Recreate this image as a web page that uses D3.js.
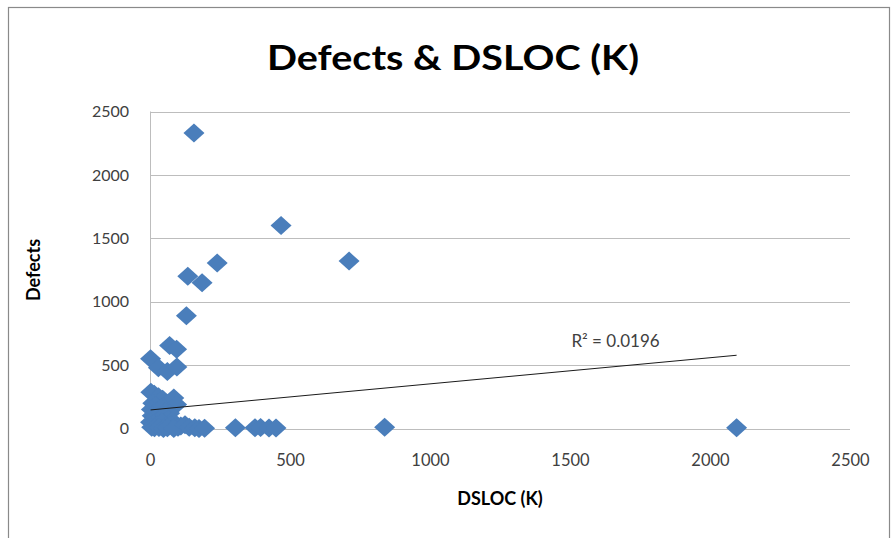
<!DOCTYPE html>
<html>
<head>
<meta charset="utf-8">
<script src="https://cdn.jsdelivr.net/npm/d3@7"></script>
<style>
  html, body { margin: 0; padding: 0; background: #fff; }
  svg { display: block; }
  text { font-family: Lato, "Open Sans", sans-serif; }
</style>
</head>
<body>
<svg id="chart" width="893" height="538"></svg>
<script>
// Source lines of code delivered (thousands) for each project
const dsloc = [
  157, 468, 711, 240, 135, 186, 130, 70, 95,
  2, 30, 62, 96,
  3, 15, 30, 45, 60, 85, 95, 10, 20, 5, 25, 40, 55, 70,
  8, 18, 35, 50, 65, 80, 2, 12, 28, 42, 58, 75, 90,
  100, 110, 6, 16, 32, 48, 62, 85, 125, 140, 160, 175, 195,
  305, 375, 395, 425, 450, 838, 2095
];
// Defects reported for each project
const defects = [
  2330, 1600, 1320, 1305, 1200, 1150, 890, 655, 625,
  550, 480, 450, 485,
  285, 270, 250, 230, 200, 240, 190, 200, 180, 150, 140, 160, 130, 120,
  100, 90, 80, 100, 70, 60, 50, 40, 30, 50, 20, 30, 15,
  10, 20, 10, 5, 8, 0, 5, 0, 30, 10, 5, 0, 2,
  5, 5, 8, 3, 4, 10, 5
];

// Linear trend fitted in the workbook
const trendIntercept = 146;
const trendSlope = 0.206;
const trendLabel = "R\u00B2 = 0.0196";

const xTicks = [0, 500, 1000, 1500, 2000, 2500];
const yTicks = [0, 500, 1000, 1500, 2000, 2500];

const chartTitle = "Defects & DSLOC (K)";
const xTitle = "DSLOC (K)";
const yTitle = "Defects";

const svg = d3.select("#chart");

// outer chart border
svg.append("rect")
  .attr("x", 8.5).attr("y", 7.5)
  .attr("width", 881).attr("height", 545)
  .attr("fill", "#fff")
  .attr("stroke", "#8a8a8a").attr("stroke-width", 1.2);

const plot = { left: 150, right: 850, top: 111.5, bottom: 428.5 };

const x = d3.scaleLinear().domain([0, 2500]).range([plot.left, plot.right]);
const y = d3.scaleLinear().domain([0, 2500]).range([plot.bottom, plot.top]);
const fmt = d3.format("d");

// horizontal gridlines
svg.append("g")
  .selectAll("line")
  .data(yTicks)
  .join("line")
  .attr("x1", plot.left).attr("x2", plot.right)
  .attr("y1", d => Math.round(y(d)) + 0.5).attr("y2", d => Math.round(y(d)) + 0.5)
  .attr("stroke", "#bdbdbd").attr("stroke-width", 1);

// vertical axis line
svg.append("line")
  .attr("x1", plot.left + 0.5).attr("x2", plot.left + 0.5)
  .attr("y1", plot.top).attr("y2", plot.bottom)
  .attr("stroke", "#bdbdbd").attr("stroke-width", 1);

// y tick labels
const yAxis = d3.axisLeft(y).tickValues(yTicks).tickFormat(fmt).tickSize(0).tickPadding(21);
const gy = svg.append("g").attr("transform", `translate(${plot.left},0)`).call(yAxis);
gy.select(".domain").remove();
gy.selectAll("text")
  .attr("font-family", "Lato, 'Open Sans', sans-serif")
  .attr("font-size", 16).attr("fill", "#404040");

// x tick labels
const xAxis = d3.axisBottom(x).tickValues(xTicks).tickFormat(fmt).tickSize(0).tickPadding(26);
const gx = svg.append("g").attr("transform", `translate(0,${plot.bottom})`).call(xAxis);
gx.select(".domain").remove();
gx.selectAll("text")
  .attr("font-family", "Lato, 'Open Sans', sans-serif")
  .attr("font-size", 16.5).attr("fill", "#404040");

// data points as diamonds
const diamond = "M0,-9.5L10.5,0L0,9.5L-10.5,0Z";
const points = dsloc.map((v, i) => ({ x: v, y: defects[i] }));
svg.append("g")
  .selectAll("path")
  .data(points)
  .join("path")
  .attr("d", diamond)
  .attr("transform", d => `translate(${x(d.x)},${y(d.y)})`)
  .attr("fill", "#4a7ebb");

// linear trendline across the data range
const xMin = d3.min(dsloc), xMax = d3.max(dsloc);
svg.append("line")
  .attr("x1", x(xMin)).attr("y1", y(trendIntercept + trendSlope * xMin))
  .attr("x2", x(xMax)).attr("y2", y(trendIntercept + trendSlope * xMax))
  .attr("stroke", "#1a1a1a").attr("stroke-width", 1);

svg.append("text")
  .attr("x", x(1505)).attr("y", y(640))
  .attr("font-size", 17).attr("fill", "#404040")
  .text(trendLabel);

// titles
svg.append("text")
  .attr("x", 453).attr("y", 70)
  .attr("text-anchor", "middle")
  .attr("font-size", 35).attr("font-weight", "bold").attr("fill", "#000")
  .attr("textLength", 372).attr("lengthAdjust", "spacingAndGlyphs")
  .text(chartTitle);

svg.append("text")
  .attr("x", (plot.left + plot.right) / 2).attr("y", 505)
  .attr("text-anchor", "middle")
  .attr("font-size", 18).attr("font-weight", "bold").attr("fill", "#000")
  .text(xTitle);

svg.append("text")
  .attr("transform", `translate(40,${(plot.top + plot.bottom) / 2}) rotate(-90)`)
  .attr("text-anchor", "middle")
  .attr("font-size", 18).attr("font-weight", "bold").attr("fill", "#000")
  .text(yTitle);
</script>
</body>
</html>
